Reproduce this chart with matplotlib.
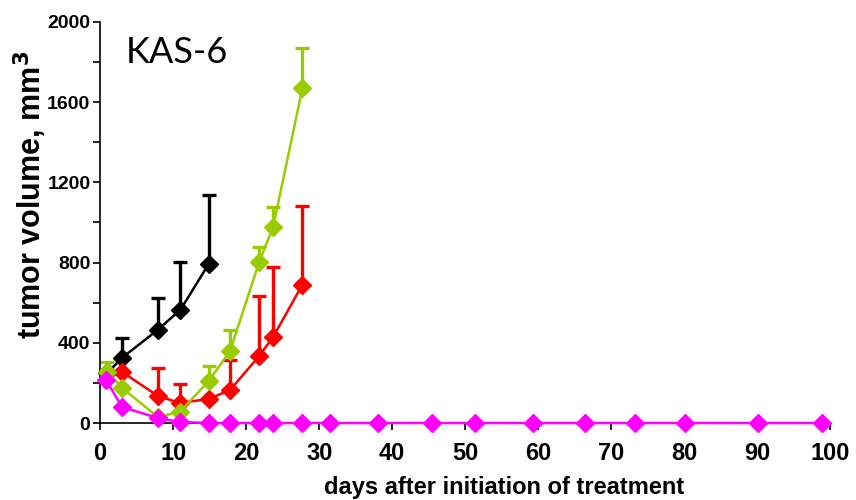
import matplotlib
matplotlib.use('Agg')
import matplotlib.pyplot as plt
import numpy as np

# days after initiation of treatment
days_black = [1, 3, 7.9, 11, 14.9]
vol_black = [250, 325, 465, 565, 795]
err_black = [0, 100, 160, 240, 340]

days_green = [1, 3, 7.9, 10.9, 14.9, 17.8, 21.8, 23.7, 27.7]
vol_green = [255, 175, 30, 55, 210, 360, 805, 980, 1670]
err_green = [50, 0, 0, 0, 75, 105, 75, 95, 200]

days_red = [1, 3, 7.9, 10.9, 14.9, 17.8, 21.8, 23.7, 27.7]
vol_red = [255, 255, 135, 100, 120, 165, 335, 430, 690]
err_red = [0, 0, 140, 95, 0, 150, 300, 350, 390]

days_mag = [0.8, 3, 7.9, 10.9, 14.9, 17.8, 21.8, 23.7, 27.7, 31.5, 38.1,
            45.5, 51.4, 59.3, 66.4, 73.3, 80.1, 90.1, 98.9]
vol_mag = [215, 80, 25, 5, 0, 0, 0, 0, 0, 0, 0, 0, 0, 0, 0, 0, 0, 0, 0]
err_mag = [25] + [0] * 18

series = [
    (days_black, vol_black, err_black, '#000000'),
    (days_red, vol_red, err_red, '#ff0000'),
    (days_green, vol_green, err_green, '#99cc00'),
    (days_mag, vol_mag, err_mag, '#ff00ff'),
]

fig = plt.figure(figsize=(8.56, 5.0), dpi=100)
ax = fig.add_axes([0.117, 0.154, 0.853, 0.802])

for d, v, e, c in series:
    d = np.array(d); v = np.array(v); e = np.array(e)
    ax.errorbar(d, v, yerr=[np.zeros_like(e), e], fmt='none', ecolor=c,
                elinewidth=2.4, capsize=5, capthick=2.4, zorder=2)
    ax.plot(d, v, color=c, lw=1.8, marker='D', ms=9.5, mfc=c, mec=c, zorder=3,
            clip_on=False)

ax.set_xlim(0, 100)
ax.set_ylim(0, 2000)
ax.set_xticks(np.arange(0, 101, 10))
ax.set_yticks(np.arange(0, 2001, 400))
ax.set_yticks(np.arange(0, 2001, 200), minor=True)

for s in ['top', 'right']:
    ax.spines[s].set_visible(False)
for s in ['left', 'bottom']:
    ax.spines[s].set_linewidth(1.2)

ax.tick_params(axis='both', which='both', direction='out', length=5, width=1.2)
ax.tick_params(axis='x', pad=9)
ax.tick_params(axis='y', pad=2)
for lbl in ax.get_xticklabels():
    lbl.set_fontfamily('Liberation Sans')
    lbl.set_fontweight('bold')
    lbl.set_fontsize(17)
for lbl in ax.get_yticklabels():
    lbl.set_fontfamily('Liberation Sans')
    lbl.set_fontweight('bold')
    lbl.set_fontsize(14)

ax.set_xlabel('days after initiation of treatment', fontsize=17, fontweight='bold',
              family='Liberation Sans')
ax.xaxis.set_label_coords(0.553, -0.132)
ax.set_ylabel('tumor volume, mm$^\\mathbf{3}$', fontsize=22, fontweight='bold',
              family='Liberation Sans')
ax.yaxis.set_label_coords(-0.07, 0.569)

ax.text(0.035, 0.925, 'KAS-6', transform=ax.transAxes, fontsize=26,
        family='Lato', va='center', ha='left')

fig.savefig('out.png', dpi=100)
